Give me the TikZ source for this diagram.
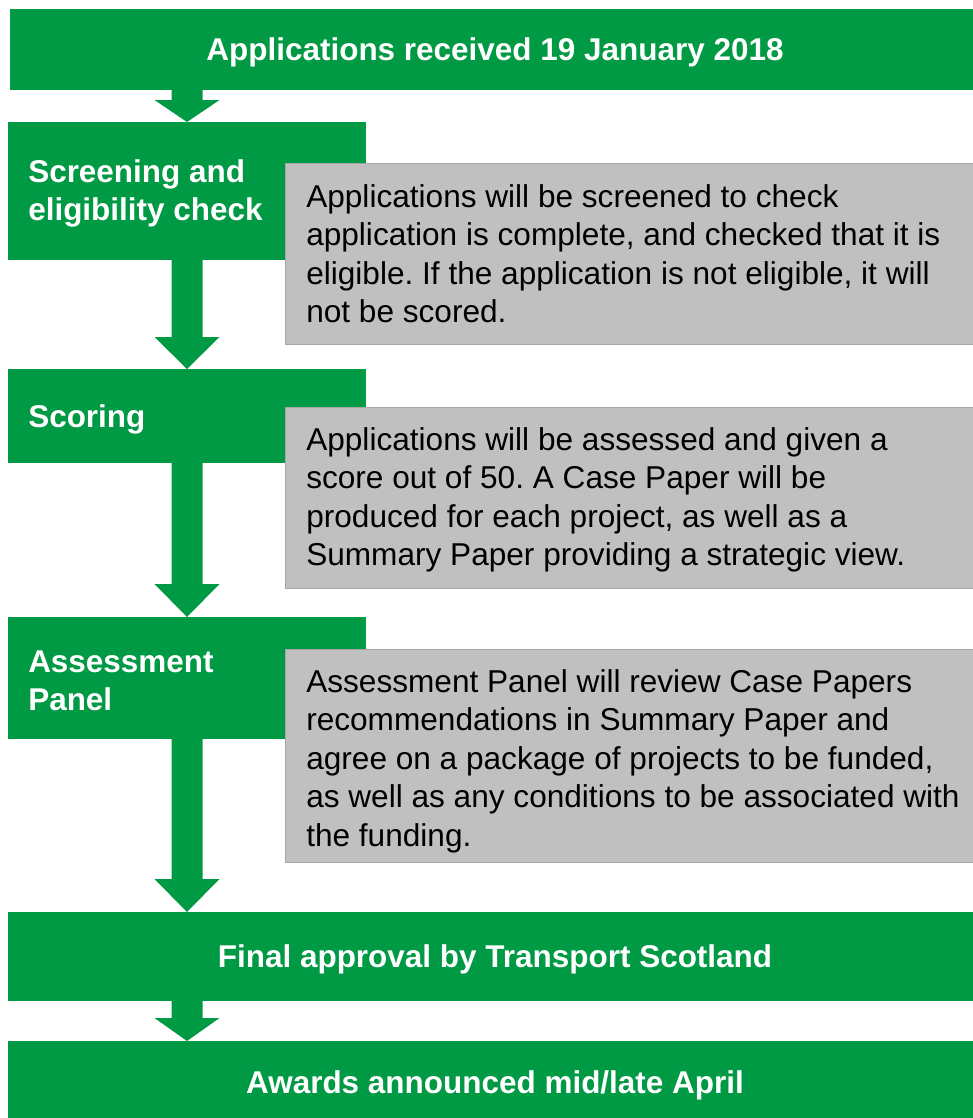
\documentclass[tikz,border=0pt]{standalone}
\usepackage{fontspec}
\setmainfont{Liberation Sans}
\usetikzlibrary{calc,fit}
\frenchspacing
\definecolor{flowgreen}{RGB}{0,153,68}
\definecolor{notegrey}{RGB}{192,192,192}
\definecolor{noteedge}{RGB}{166,166,166}
\tikzset{
 greenbox/.style={rectangle, fill=flowgreen, inner sep=0pt, outer sep=0pt},
 notebox/.style={rectangle, fill=notegrey, draw=noteedge, line width=0.75pt, inner sep=0pt, outer sep=0pt},
 headtext/.style={text=white, font=\bfseries\fontsize{23.6pt}{28.6pt}\selectfont, inner sep=0pt, anchor=base},
 steptext/.style={text=white, font=\bfseries\fontsize{23.6pt}{28.6pt}\selectfont, inner sep=0pt, anchor=base west},
 notetext/.style={text=black, font=\fontsize{23.7pt}{28.9pt}\selectfont, inner sep=0pt, anchor=base west},
 arrowfill/.style={fill=flowgreen},
}
\newcommand\flowarrow[3]{%
  \path (#1.south -| axis) coordinate (s) (#2.north -| axis) coordinate (t);
  \fill[arrowfill] ($(s)+(-15.5,0)$) -- ($(t)+(-15.5,-#3)$) -- ($(t)+(-32.5,-#3)$) -- (t)
     -- ($(t)+(32.5,-#3)$) -- ($(t)+(15.5,-#3)$) -- ($(s)+(15.5,0)$) -- cycle;
}
\begin{document}
\frenchspacing
\begin{tikzpicture}[x=0.75pt,y=-0.75pt]
\useasboundingbox (0,0) rectangle (973,1118);
\coordinate (axis) at (187,0);
% green boxes
\node[greenbox, fit={(10,9) (976,90)}] (recv) {};
\node[greenbox, fit={(8,122) (366,260)}] (screen) {};
\node[greenbox, fit={(8,369) (366,463)}] (score) {};
\node[greenbox, fit={(8,617) (366,739)}] (panel) {};
\node[greenbox, fit={(8,912) (976,1001)}] (final) {};
\node[greenbox, fit={(8,1041) (976,1122)}] (award) {};
% arrows
\flowarrow{recv}{screen}{22}
\flowarrow{screen}{score}{32}
\flowarrow{score}{panel}{33}
\flowarrow{panel}{final}{33}
\flowarrow{final}{award}{23}
% grey notes
\node[notebox, fit={(285,163) (980,344)}] (note1) {};
\node[notebox, fit={(285,407) (980,588)}] (note2) {};
\node[notebox, fit={(285,649) (980,862)}] (note3) {};
% texts
\node[headtext] (recvtxt) at (495,60) {Applications received 19 January 2018};
\node[steptext] (screentxt) at (28,182) {\vtop{\hbox{Screening and}\hbox{eligibility check}}};
\node[steptext] (scoretxt) at (28,427) {Scoring};
\node[steptext] (paneltxt) at (28,672) {\vtop{\hbox{Assessment}\hbox{Panel}}};
\node[headtext] (finaltxt) at (495,967) {Final approval by Transport Scotland};
\node[headtext] (awardtxt) at (495,1093) {Awards announced mid/late April};
\node[notetext] (note1txt) at (306,207) {\vtop{\hbox{Applications will be screened to check}\hbox{application is complete, and checked that it is}\hbox{eligible. If the application is not eligible, it will}\hbox{not be scored.}}};
\node[notetext] (note2txt) at (306,450) {\vtop{\hbox{Applications will be assessed and given a}\hbox{score out of 50. A Case Paper will be}\hbox{produced for each project, as well as a}\hbox{Summary Paper providing a strategic view.}}};
\node[notetext] (note3txt) at (306,692) {\vtop{\hbox{Assessment Panel will review Case Papers}\hbox{recommendations in Summary Paper and}\hbox{agree on a package of projects to be funded,}\hbox{as well as any conditions to be associated with}\hbox{the funding.}}};
\end{tikzpicture}
\end{document}
